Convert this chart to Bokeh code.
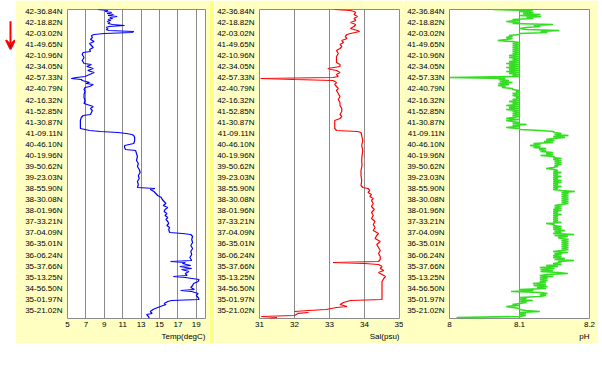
from bokeh.plotting import figure
from bokeh.layouts import row
from bokeh.models import Range1d, FixedTicker, Title, Arrow, VeeHead
from bokeh.embed import file_html
from bokeh.resources import INLINE

# ---------------- data ----------------
station_labels = ["42-36.84N", "42-18.82N", "42-03.02N", "41-49.65N", "42-10.96N", "42-34.05N",
                  "42-57.33N", "42-40.79N", "42-16.32N", "41-52.85N", "41-30.87N", "41-09.11N",
                  "40-46.10N", "40-19.96N", "39-50.62N", "39-23.03N", "38-55.90N", "38-30.08N",
                  "38-01.96N", "37-33.21N", "37-04.09N", "36-35.01N", "36-06.24N", "35-37.66N",
                  "35-13.25N", "34-56.50N", "35-01.97N", "35-21.02N"]
first_label_rec = 11
label_step = 11.07
rec_min, rec_max = 9, 318

temp_ticks = [5, 7, 9, 11, 13, 15, 17, 19]
sal_ticks = [31, 32, 33, 34, 35]
ph_ticks = [8, 8.1, 8.2]

temp_rec = [9, 10, 11, 12, 13, 14, 15, 16, 17, 18, 19, 20, 21, 22, 23, 24, 25, 26, 27, 28, 29, 30,
            31, 32, 33, 34, 35, 37, 39, 41, 43, 45, 47, 49, 51, 52, 54, 57, 60, 63, 64, 66, 68, 70,
            72, 74, 76, 77, 78, 79, 80, 82, 83, 84, 86, 87, 89, 91, 94, 97, 100, 103, 106, 108, 110,
            112, 114, 115, 117, 120, 124, 128, 130, 131, 132, 133, 134, 135, 137, 140, 143, 145, 147,
            149, 150, 153, 156, 160, 163, 166, 169, 172, 175, 178, 181, 184, 187, 188, 189, 191, 193,
            195, 197, 199, 201, 203, 205, 207, 209, 211, 213, 215, 217, 219, 221, 223, 225, 227, 229,
            232, 233, 234, 236, 239, 242, 245, 248, 251, 254, 257, 260, 261, 262, 263, 265, 266, 268,
            269, 271, 273, 275, 276, 277, 279, 281, 283, 285, 287, 289, 290, 291, 293, 295, 297, 299,
            300, 301, 303, 304, 306, 307, 309, 311, 313, 314, 316, 318]
temp_val = [8.3, 9.4, 9.1, 9.8, 9.3, 10.0, 9.4, 10.4, 9.6, 9.9, 9.4, 9.7, 9.3, 9.6, 9.4, 9.9, 11.2,
            9.5, 9.2, 9.4, 9.2, 9.5, 12.2, 12.0, 9.0, 7.9, 7.6, 7.7, 7.5, 7.9, 7.4, 7.6, 7.8, 7.4, 7.5,
            6.7, 6.6, 6.8, 6.6, 6.8, 7.6, 7.1, 7.8, 7.2, 7.9, 7.4, 6.9, 6.0, 5.4, 6.5, 6.6, 7.4, 7.0,
            7.8, 7.4, 6.9, 6.8, 6.9, 6.8, 6.8, 6.9, 6.8, 7.8, 7.5, 7.7, 7.6, 7.5, 6.7, 6.5, 6.4, 6.4,
            6.4, 7.4, 8.6, 10.5, 11.4, 12.0, 12.2, 12.3, 12.3, 12.2, 11.2, 11.2, 11.3, 12.4, 12.5,
            12.6, 12.5, 12.7, 12.6, 12.8, 12.9, 12.7, 12.8, 12.6, 12.7, 12.6, 14.5, 14.0, 14.4, 14.6,
            14.8, 15.2, 15.3, 15.5, 15.7, 15.4, 15.9, 15.6, 15.5, 15.8, 15.6, 15.9, 15.7, 15.9, 16.0,
            15.8, 16.1, 16.0, 16.1, 17.5, 18.4, 18.6, 18.5, 18.6, 18.4, 18.6, 18.4, 18.5, 18.3, 18.5,
            16.2, 17.8, 17.5, 18.4, 17.2, 18.5, 17.4, 18.2, 17.8, 18.0, 16.5, 17.8, 19.3, 19.2, 18.7,
            18.6, 18.4, 18.8, 17.3, 18.5, 19.2, 19.0, 19.2, 19.3, 16.3, 15.9, 15.5, 15.7, 15.1, 14.8,
            14.3, 14.0, 14.2, 13.6, 13.8, 13.9]

sal_rec = [9, 10, 11, 12, 14, 16, 18, 20, 22, 24, 26, 28, 30, 31, 33, 34, 36, 38, 40, 42, 44, 46, 48,
           50, 53, 56, 59, 62, 64, 66, 68, 69, 70, 72, 74, 76, 77, 78, 79, 80, 82, 84, 86, 88, 90, 93,
           96, 99, 102, 105, 108, 111, 114, 116, 118, 120, 124, 128, 130, 131, 132, 135, 140, 145,
           150, 155, 160, 165, 170, 175, 180, 185, 187, 188, 190, 192, 194, 196, 198, 200, 203, 206,
           209, 212, 215, 218, 221, 224, 227, 230, 233, 235, 238, 241, 244, 247, 250, 253, 256, 259,
           261, 262, 263, 264, 266, 268, 270, 272, 274, 276, 278, 281, 285, 290, 295, 299, 300, 302,
           304, 306, 307, 309, 310, 311, 312, 313, 315, 316, 317, 318]
sal_val = [33.14, 33.6, 33.7, 33.75, 33.7, 33.8, 33.7, 33.75, 33.6, 33.75, 33.7, 33.6, 33.8, 33.86,
           33.6, 33.5, 33.45, 33.5, 33.35, 33.4, 33.3, 33.35, 33.3, 33.2, 33.25, 33.2, 33.2, 33.2,
           33.3, 33.3, 32.95, 33.05, 33.2, 33.3, 33.2, 33.25, 33.1, 31.03, 32.0, 33.1, 33.2, 33.15,
           33.2, 33.25, 33.2, 33.25, 33.3, 33.25, 33.3, 33.3, 33.35, 33.35, 33.3, 33.35, 33.3, 33.15,
           33.15, 33.15, 33.2, 33.8, 33.9, 33.92, 33.95, 33.92, 33.95, 33.93, 33.92, 33.93, 33.9,
           33.9, 33.92, 33.9, 33.95, 34.1, 34.15, 34.1, 34.2, 34.15, 34.25, 34.2, 34.25, 34.2, 34.28,
           34.2, 34.25, 34.2, 34.3, 34.25, 34.3, 34.25, 34.4, 34.35, 34.3, 34.45, 34.35, 34.4, 34.45,
           34.4, 34.45, 34.45, 34.4, 33.1, 34.0, 34.4, 34.5, 34.45, 34.55, 34.4, 34.5, 34.6, 34.55,
           34.5, 34.5, 34.5, 34.5, 34.5, 33.6, 33.4, 33.3, 33.5, 33.2, 32.9, 32.4, 32.0, 32.4, 32.1,
           32.0, 31.05, 31.5, 31.3]

ph_val = [8.062, 8.119, 8.100, 8.120, 8.105, 8.130, 8.100, 8.131, 8.110, 8.120,
          8.090, 8.100, 8.081, 8.100, 8.090, 8.148, 8.120, 8.130, 8.110, 8.100,
          8.110, 8.157, 8.130, 8.140, 8.100, 8.100, 8.085, 8.090, 8.081, 8.090,
          8.081, 8.069, 8.090, 8.100, 8.090, 8.100, 8.090, 8.100, 8.090, 8.100,
          8.090, 8.100, 8.090, 8.100, 8.090, 8.100, 8.085, 8.100, 8.085, 8.100,
          8.090, 8.100, 8.085, 8.100, 8.081, 8.100, 8.085, 8.100, 8.081, 8.100,
          8.085, 8.100, 8.081, 8.100, 8.085, 8.100, 8.090, 8.100, 8.000, 8.080,
          8.070, 8.085, 8.072, 8.090, 8.070, 8.085, 8.069, 8.080, 8.075, 8.090,
          8.090, 8.100, 8.095, 8.100, 8.090, 8.100, 8.090, 8.100, 8.095, 8.100,
          8.090, 8.100, 8.085, 8.100, 8.090, 8.100, 8.081, 8.100, 8.085, 8.100,
          8.081, 8.100, 8.090, 8.100, 8.090, 8.100, 8.090, 8.100, 8.090, 8.081,
          8.100, 8.081, 8.090, 8.100, 8.090, 8.110, 8.090, 8.100, 8.081, 8.100,
          8.100, 8.130, 8.148, 8.150, 8.160, 8.150, 8.170, 8.148, 8.165, 8.148,
          8.138, 8.150, 8.135, 8.148, 8.120, 8.130, 8.115, 8.130, 8.120, 8.138,
          8.128, 8.138, 8.130, 8.148, 8.138, 8.148, 8.130, 8.150, 8.148, 8.160,
          8.148, 8.160, 8.150, 8.160, 8.150, 8.160, 8.150, 8.155, 8.148, 8.138,
          8.150, 8.155, 8.148, 8.160, 8.148, 8.155, 8.148, 8.160, 8.148, 8.155,
          8.148, 8.160, 8.148, 8.160, 8.148, 8.155, 8.148, 8.160, 8.148, 8.155,
          8.148, 8.160, 8.179, 8.160, 8.170, 8.160, 8.170, 8.160, 8.170, 8.160,
          8.170, 8.160, 8.170, 8.160, 8.170, 8.160, 8.150, 8.160, 8.150, 8.160,
          8.148, 8.160, 8.148, 8.155, 8.148, 8.160, 8.148, 8.155, 8.148, 8.155,
          8.148, 8.155, 8.148, 8.160, 8.138, 8.150, 8.148, 8.160, 8.148, 8.160,
          8.148, 8.165, 8.150, 8.160, 8.148, 8.178, 8.150, 8.169, 8.155, 8.160,
          8.170, 8.160, 8.170, 8.160, 8.170, 8.160, 8.170, 8.160, 8.170, 8.160,
          8.170, 8.160, 8.148, 8.169, 8.150, 8.160, 8.148, 8.160, 8.148, 8.165,
          8.150, 8.178, 8.155, 8.160, 8.148, 8.160, 8.138, 8.155, 8.129, 8.150,
          8.130, 8.148, 8.130, 8.155, 8.169, 8.140, 8.129, 8.148, 8.129, 8.140,
          8.129, 8.140, 8.129, 8.138, 8.119, 8.138, 8.120, 8.140, 8.125, 8.138,
          8.100, 8.120, 8.088, 8.130, 8.140, 8.129, 8.138, 8.129, 8.100, 8.110,
          8.100, 8.119, 8.100, 8.110, 8.100, 8.090, 8.100, 8.081, 8.090, 8.100,
          8.100, 8.109, 8.129, 8.100, 8.109, 8.100, 8.109, 8.100, 8.010, 8.050]
ph_rec = list(range(9, 9 + len(ph_val)))

# ---------------- styling ----------------
YELLOW = "#ffffc2"
STRIP = "#ffff80"
GRID = "#8a8a8a"
FONT = "Arial"
FS = "8px"
H = 343

label_pos = [round(first_label_rec + label_step * i, 2) for i in range(len(station_labels))]
overrides = {pos: lab for pos, lab in zip(label_pos, station_labels)}


def panel(xr, ticks, title, rec, val, color, bl, br, lw, fw=140):
    p = figure(frame_width=fw, frame_height=309, x_range=Range1d(*xr),
               y_range=Range1d(rec_max, rec_min), output_backend="svg", toolbar_location=None,
               min_border_left=bl, min_border_right=br, min_border_top=9, min_border_bottom=25,
               background_fill_color="white", border_fill_color=YELLOW,
               outline_line_color=GRID, outline_line_width=1)
    p.line(val, rec, line_color=color, line_width=lw)
    p.xaxis.ticker = FixedTicker(ticks=ticks)
    p.xgrid.ticker = FixedTicker(ticks=ticks)
    p.xgrid.grid_line_color = GRID
    p.xgrid.grid_line_width = 1
    p.ygrid.visible = False
    p.yaxis.ticker = FixedTicker(ticks=label_pos)
    p.yaxis.major_label_overrides = overrides
    for ax in (p.xaxis[0], p.yaxis[0]):
        ax.axis_line_color = None
        ax.major_tick_line_color = None
        ax.minor_tick_line_color = None
        ax.major_tick_out = 0
        ax.major_tick_in = 0
        ax.major_label_text_font = FONT
        ax.major_label_text_font_size = FS
        ax.major_label_text_color = "black"
    p.xaxis.major_label_standoff = 3
    p.yaxis.major_label_standoff = 5
    t = Title(text=title, align="right", text_font=FONT, text_font_size=FS,
              text_font_style="normal", text_color="black", standoff=0, offset=0)
    p.add_layout(t, "below")
    return p


arrow_fig = figure(width=15, height=H, x_range=Range1d(0, 15), y_range=Range1d(H, 0),
                   output_backend="svg", toolbar_location=None, min_border=0,
                   background_fill_color="white", border_fill_color="white", outline_line_color=None)
arrow_fig.axis.visible = False
arrow_fig.grid.visible = False
arrow_fig.add_layout(Arrow(x_start=10, y_start=13, x_end=10, y_end=44, line_color="red",
                           line_width=2, end=VeeHead(size=9, line_color="red", line_width=2)))


def strip(w):
    s = figure(width=w, height=H, output_backend="svg", toolbar_location=None, min_border=0,
               background_fill_color=STRIP, border_fill_color=STRIP, outline_line_color=None)
    s.axis.visible = False
    s.grid.visible = False
    return s


p1 = panel((5, 20), temp_ticks, "Temp(degC)", temp_rec, temp_val, "#0000ff", 52, 4, 1.2, fw=138)
p2 = panel((31, 35), sal_ticks, "Sal(psu)", sal_rec, sal_val, "#ff0000", 44, 4, 1.2)
p3 = panel((8, 8.2), ph_ticks, "pH", ph_rec, ph_val, "#33dd22", 46, 9, 1.6)

layout = row(arrow_fig, p1, strip(5), p2, p3, spacing=0, margin=(0, 0, 0, 0))

open("out.html", "w").write(file_html(layout, INLINE))
